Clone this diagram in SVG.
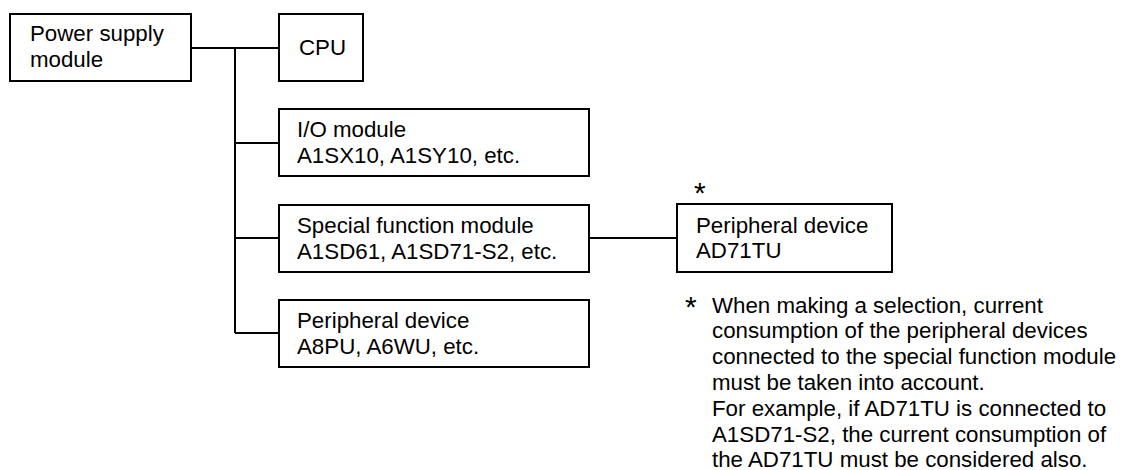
<svg xmlns="http://www.w3.org/2000/svg" width="1128" height="470" viewBox="0 0 1128 470">
<style>
.box{fill:#fff;stroke:#000;stroke-width:2}
.ln{fill:none;stroke:#000;stroke-width:2}
text{font-family:"Liberation Sans",Arial,sans-serif;font-size:22.3px;fill:#000}
.ast{font-size:30px}
</style>
<rect width="1128" height="470" fill="#fff"/>
<g id="connectors">
<path class="ln" d="M191 48H279M235 48V333M235 143H279M235 238H279M235 333H279M589 238H677"/>
</g>
<g id="power">
<rect class="box" x="10" y="14" width="181" height="67"/>
<text x="30" y="41">Power supply</text>
<text x="30" y="67">module</text>
</g>
<g id="cpu">
<rect class="box" x="279" y="14" width="84" height="67"/>
<text x="299" y="55">CPU</text>
</g>
<g id="io">
<rect class="box" x="279" y="109" width="310" height="67"/>
<text x="297" y="137">I/O module</text>
<text x="297" y="163">A1SX10, A1SY10, etc.</text>
</g>
<g id="special">
<rect class="box" x="279" y="205" width="310" height="67"/>
<text x="297" y="233">Special function module</text>
<text x="297" y="259">A1SD61, A1SD71-S2, etc.</text>
</g>
<g id="peripheral">
<rect class="box" x="279" y="300" width="310" height="67"/>
<text x="297" y="328">Peripheral device</text>
<text x="297" y="354">A8PU, A6WU, etc.</text>
</g>
<g id="ad71tu">
<rect class="box" x="677" y="204" width="215" height="68"/>
<text x="696" y="233">Peripheral device</text>
<text x="696" y="258">AD71TU</text>
<text class="ast" x="694" y="203">*</text>
</g>
<g id="note">
<text class="ast" x="685" y="317">*</text>
<text x="712" y="313">When making a selection, current</text>
<text x="712" y="338">consumption of the peripheral devices</text>
<text x="712" y="364">connected to the special function module</text>
<text x="712" y="390">must be taken into account.</text>
<text x="712" y="416">For example, if AD71TU is connected to</text>
<text x="712" y="442">A1SD71-S2, the current consumption of</text>
<text x="712" y="467">the AD71TU must be considered also.</text>
</g>
</svg>
